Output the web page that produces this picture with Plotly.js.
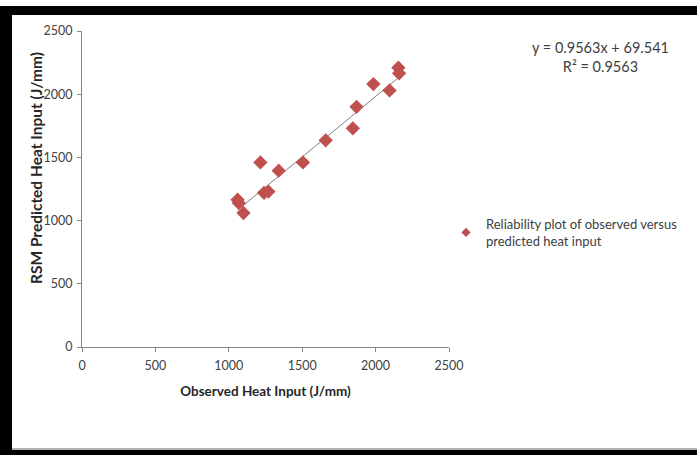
<!DOCTYPE html>
<html>
<head>
<meta charset="utf-8">
<script src="https://cdn.plot.ly/plotly-3.0.1.min.js"></script>
<style>html,body{margin:0;padding:0;background:#fff;}#chart{width:697px;height:455px;}</style>
</head>
<body>
<div id="chart"></div>
<script>
// Observed heat input (J/mm)
const observed = [1060, 1068, 1100, 1215, 1240, 1270, 1340, 1505, 1660, 1845, 1870, 1985, 2095, 2155, 2160];
// RSM predicted heat input (J/mm)
const predicted = [1165, 1140, 1060, 1460, 1220, 1230, 1395, 1460, 1635, 1730, 1900, 2080, 2030, 2210, 2165];
const trendSlope = 0.9563;
const trendIntercept = 69.541;
const rSquared = 0.9563;
const axisTicks = [0, 500, 1000, 1500, 2000, 2500];
const seriesName = 'Reliability plot of observed versus<br>predicted heat input';

const W = 697, H = 455;
const L = 82, R = 449, T = 31, B = 347;
const px = v => (v - L) / (R - L);
const py = v => (B - v) / (B - T);

const xMin = Math.min(...observed), xMax = Math.max(...observed);
const trendX = [xMin, xMax];
const trendY = trendX.map(x => trendSlope * x + trendIntercept);

const FONT = 'Lato, "Open Sans", sans-serif';
const TXT = '#404040';
const RED = '#C0504D';

const traces = [
  {
    x: trendX, y: trendY, type: 'scatter', mode: 'lines',
    line: {color: '#7f7f7f', width: 1}, showlegend: false, hoverinfo: 'skip'
  },
  {
    x: observed, y: predicted, type: 'scatter', mode: 'markers', name: seriesName,
    marker: {symbol: 'diamond', size: 11, color: RED, line: {width: 0}},
    showlegend: false, legendgroup: 'obs'
  },
  {
    // legend entry for the series (smaller symbol, as in the reference legend)
    x: [null], y: [null], type: 'scatter', mode: 'markers', name: seriesName,
    marker: {symbol: 'diamond', size: 7, color: RED, line: {width: 0}},
    showlegend: true, legendgroup: 'obs'
  }
];

const axisCommon = {
  range: [0, 2500], tickvals: axisTicks, ticks: 'outside', ticklen: 4, tickwidth: 1,
  tickcolor: '#868686', showline: true, linecolor: '#868686', linewidth: 1,
  showgrid: false, zeroline: false, tickfont: {family: FONT, size: 12.5, color: TXT},
  fixedrange: true, automargin: false
};

const layout = {
  width: W, height: H,
  margin: {l: L, r: W - R, t: T, b: H - B},
  paper_bgcolor: '#ffffff', plot_bgcolor: '#ffffff',
  font: {family: FONT, color: TXT},
  xaxis: Object.assign({}, axisCommon, {
    ticklabelstandoff: 3,
    title: {text: 'Observed Heat Input (J/mm)', font: {family: FONT, size: 13.5, color: '#262626', weight: 'bold'}, standoff: 14}
  }),
  yaxis: Object.assign({}, axisCommon, {ticklabelstandoff: 2}),
  showlegend: true,
  legend: {
    x: px(446), y: py(209), xanchor: 'left', yanchor: 'top',
    font: {family: FONT, size: 13, color: TXT}, bgcolor: 'rgba(0,0,0,0)',
    itemsizing: 'trace', itemwidth: 30, tracegroupgap: 0, borderwidth: 0
  },
  annotations: [
    {
      xref: 'paper', yref: 'paper', x: px(600), y: py(56.5), xanchor: 'center', yanchor: 'middle',
      text: 'y = ' + trendSlope + 'x + ' + trendIntercept + '<br>R² = ' + rSquared,
      showarrow: false, align: 'center', font: {family: FONT, size: 14.5, color: TXT}
    },
    {
      xref: 'paper', yref: 'paper', x: px(36), y: py(168), xanchor: 'center', yanchor: 'middle',
      text: 'RSM Predicted Heat Input (J/mm)', textangle: -90, showarrow: false,
      font: {family: FONT, size: 15.5, color: '#262626', weight: 'bold'}
    }
  ],
  shapes: [
    {type: 'rect', xref: 'paper', yref: 'paper', x0: px(0), x1: px(W), y0: py(6), y1: py(15), fillcolor: '#000', line: {width: 0}, layer: 'above'},
    {type: 'rect', xref: 'paper', yref: 'paper', x0: px(0), x1: px(12), y0: py(6), y1: py(H), fillcolor: '#000', line: {width: 0}, layer: 'above'},
    {type: 'rect', xref: 'paper', yref: 'paper', x0: px(0), x1: px(W), y0: py(450), y1: py(H), fillcolor: '#000', line: {width: 0}, layer: 'above'},
    {type: 'line', xref: 'paper', yref: 'paper', x0: px(12), x1: px(W), y0: py(449), y1: py(449), line: {color: '#9a9a9a', width: 1.5}, layer: 'above'}
  ]
};

Plotly.newPlot('chart', traces, layout, {displayModeBar: false, staticPlot: true});
</script>
</body>
</html>
